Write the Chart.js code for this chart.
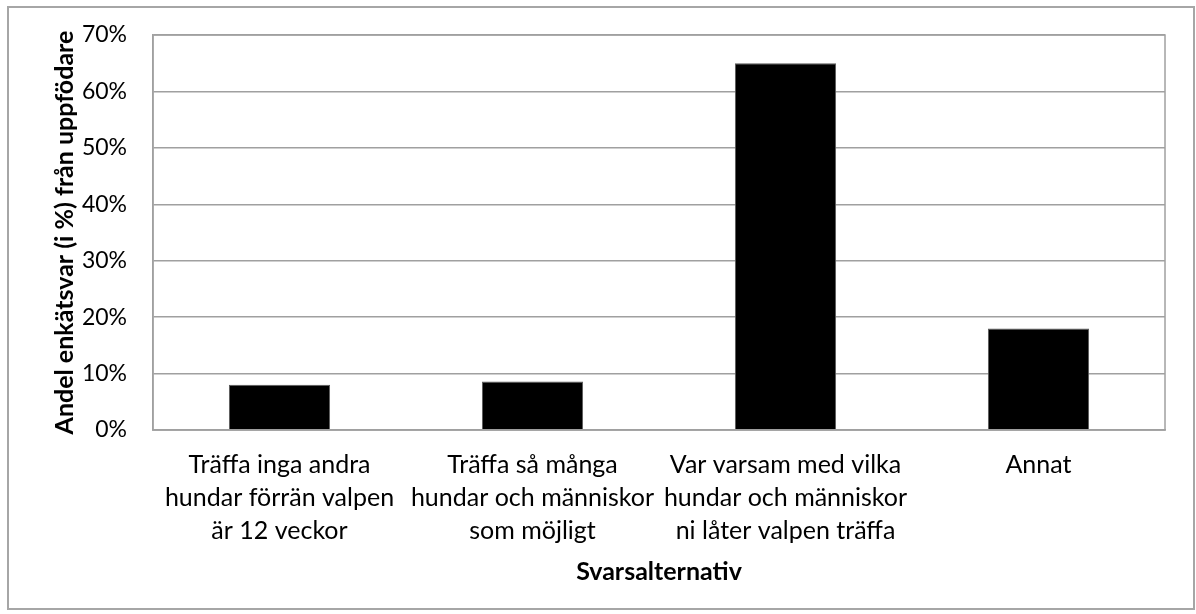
<!DOCTYPE html>
<html>
<head>
<meta charset="utf-8">
<script src="https://cdn.jsdelivr.net/npm/chart.js@4.4.1/dist/chart.umd.min.js"></script>
<style>
  html, body { margin: 0; padding: 0; background: #fff; }
  #ram { position: absolute; left: 0; top: 0; width: 1196px; height: 614px; }
  #kant { position: absolute; left: 7px; top: 6px; width: 1184px; height: 600px;
          border: 2px solid #a6a6a6; pointer-events: none; }
</style>
</head>
<body>
<div id="ram">
  <canvas id="grafico"></canvas>
  <div id="kant"></div>
</div>
<script>
// svarsalternativ (kategorier)
var kategorier = [
  ['Träffa inga andra', 'hundar förrän valpen', 'är 12 veckor'],
  ['Träffa så många', 'hundar och människor', 'som möjligt'],
  ['Var varsam med vilka', 'hundar och människor', 'ni låter valpen träffa'],
  'Annat'
];
// andel svar i procent
var andelar = [8.0, 8.6, 65.0, 18.0];
// y-axelns steg
var y_max = 70;
var y_steg = 10;

// ram runt själva plotytan
var plotRam = {
  id: 'plotRam',
  afterDraw: function(chart) {
    var a = chart.chartArea;
    var ctx = chart.ctx;
    ctx.save();
    ctx.strokeStyle = '#a0a0a0';
    ctx.lineWidth = 1.5;
    ctx.strokeRect(a.left, a.top, a.right - a.left, a.bottom - a.top);
    ctx.restore();
  }
};

var ctx = document.getElementById('grafico');
var chart = new Chart(ctx, {
  type: 'bar',
  data: {
    labels: kategorier,
    datasets: [{
      data: andelar,
      backgroundColor: '#000000',
      borderColor: '#5a5a5a',
      borderWidth: 1,
      barPercentage: 0.4,
      categoryPercentage: 1.0
    }]
  },
  options: {
    responsive: true,
    maintainAspectRatio: false,
    animation: false,
    layout: { padding: { left: 10, top: 35, right: 31, bottom: 0 } },
    plugins: {
      legend: { display: false },
      tooltip: { enabled: false }
    },
    scales: {
      x: {
        grid: { display: false, drawTicks: false },
        border: { color: '#a0a0a0', width: 1.5 },
        ticks: {
          color: '#000',
          padding: 18,
          maxRotation: 0,
          autoSkip: false,
          font: { family: 'Lato', size: 25, lineHeight: 1.32 }
        },
        title: {
          display: true,
          text: 'Svarsalternativ',
          color: '#000',
          padding: { top: 0, bottom: 27 },
          font: { family: 'Lato', size: 25, weight: 'bold' }
        },
        afterFit: function(scale) { scale.height = 184; }
      },
      y: {
        min: 0,
        max: y_max,
        grid: { color: '#a0a0a0', lineWidth: 1.5, drawTicks: false },
        border: { color: '#a0a0a0', width: 1.5 },
        ticks: {
          stepSize: y_steg,
          color: '#000',
          padding: 26,
          font: { family: 'Lato', size: 23 },
          callback: function(v) { return v + '%'; }
        },
        title: {
          display: true,
          text: 'Andel enkätsvar (i %) från uppfödare',
          color: '#000',
          padding: { top: 40, bottom: 0 },
          font: { family: 'Lato', size: 25, weight: 'bold' }
        },
        afterFit: function(scale) {
          scale.width = 143;
          scale.paddingTop = 0;
          scale.paddingBottom = 0;
        }
      }
    }
  },
  plugins: [plotRam]
});
</script>
</body>
</html>
